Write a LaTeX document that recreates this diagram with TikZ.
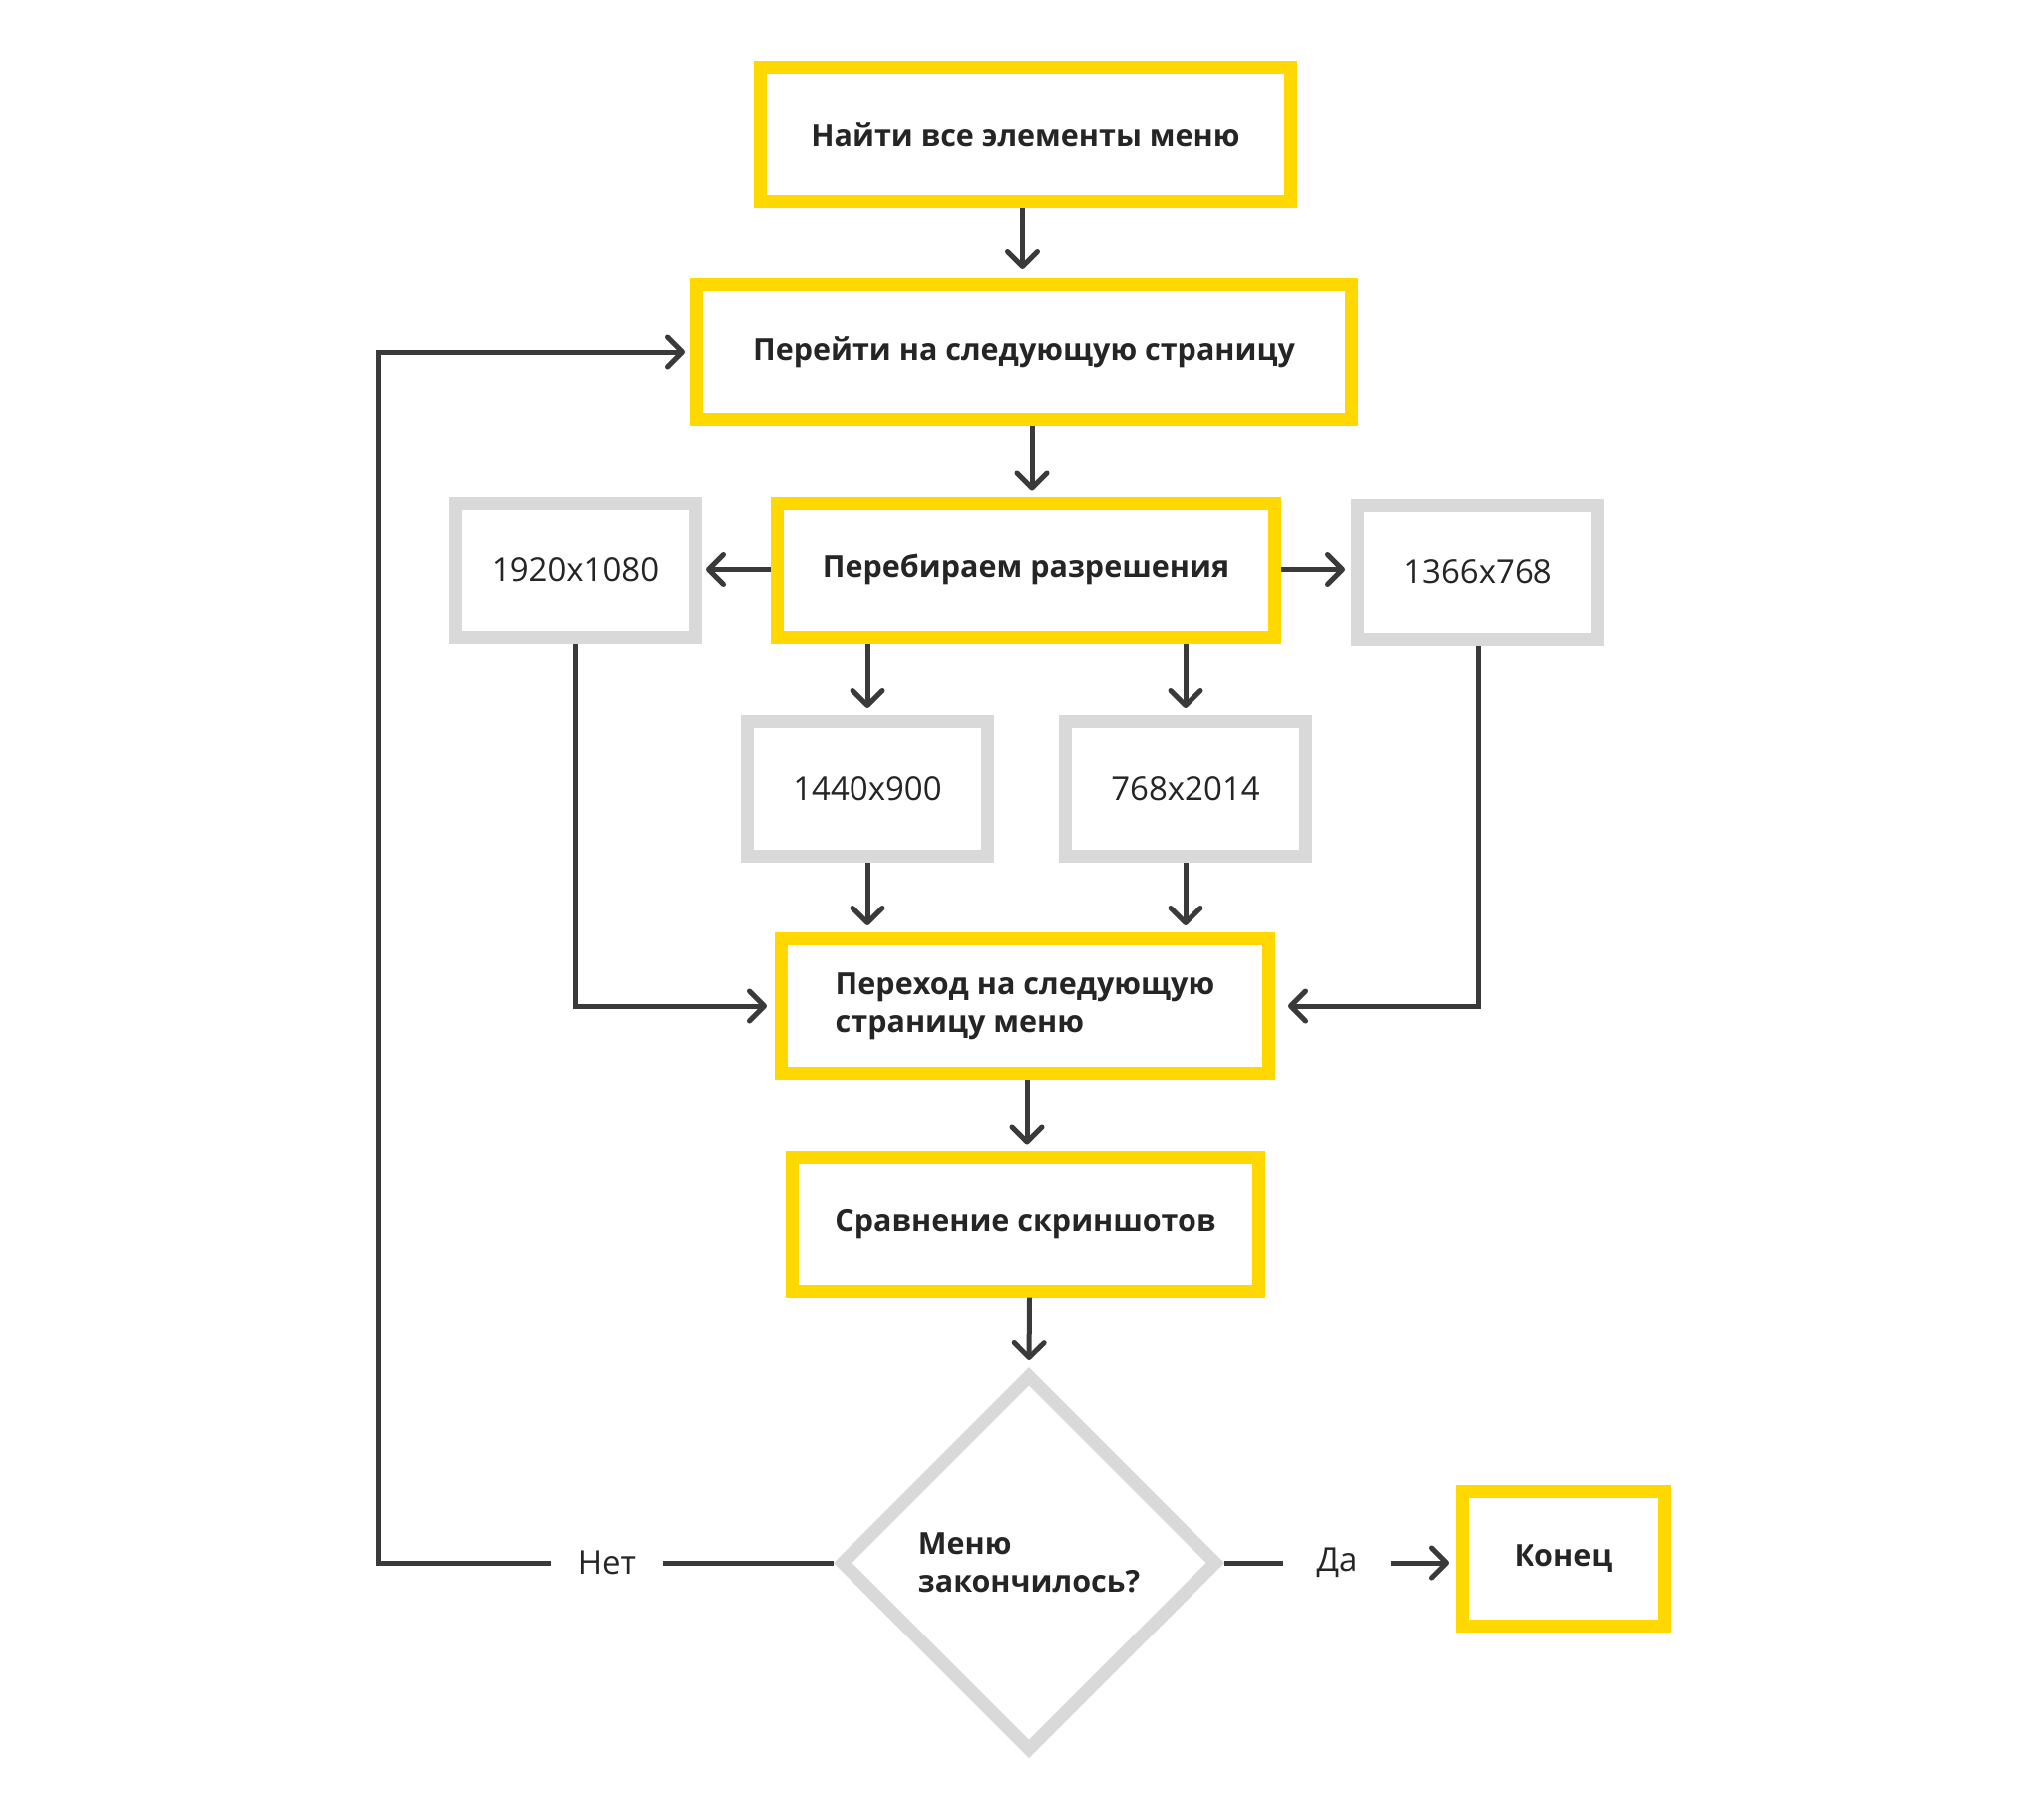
\documentclass[tikz,border=0pt]{standalone}
\usepackage{fontspec}
\setmainfont{Open Sans}
\usetikzlibrary{arrows.meta,shapes.geometric}
\definecolor{yel}{HTML}{FFD800}
\definecolor{gry}{HTML}{D9D9D9}
\definecolor{drk}{HTML}{3A3A3A}
\definecolor{txt}{HTML}{252525}
\begin{document}
\begin{tikzpicture}[x=1pt,y=-1pt,
  ybox/.style={draw=yel, line width=13pt, minimum width=#1, minimum height=135pt, inner sep=0pt,
    font=\fontsize{30.5}{38}\selectfont\bfseries, text=txt, align=left},
  gbox/.style={draw=gry, line width=13pt, minimum width=241pt, minimum height=135pt, inner sep=0pt,
    font=\fontsize{33}{38}\selectfont, text=txt},
  dia/.style={diamond, aspect=1, draw=gry, line width=13pt, minimum width=379pt, minimum height=379pt,
    inner sep=0pt, font=\fontsize{30.5}{38}\selectfont\bfseries, text=txt, align=left},
  lbl/.style={font=\fontsize{33}{38}\selectfont, text=txt, inner ysep=0pt},
  conn/.style={draw=drk, line width=5pt, -{Straight Barb[length=15pt,width=30pt,round]}},
  plain/.style={draw=drk, line width=5pt}]
\fill[white] (0,0) rectangle (2050,1821);
\useasboundingbox (0,0) rectangle (2050,1821);

\node[ybox=532pt] (b1) at (1028.5,135) {Найти все элементы меню};
\node[ybox=657pt] (b2) at (1027,353) {Перейти на следующую страницу};
\node[ybox=499pt] (b3) at (1029,571.5) {Перебираем разрешения};
\node[gbox] (r1920) at (577,571.5) {1920x1080};
\node[gbox] (r1366) at (1482,573.5) {1366x768};
\node[gbox] (r1440) at (870,791) {1440x900};
\node[gbox] (r768) at (1189,791) {768x2014};
\node[ybox=489pt] (b4) at (1028,1009) {Переход на следующую\\страницу меню};
\node[ybox=468pt] (b5) at (1028.5,1227.5) {Сравнение скриншотов};
\node[dia] (d) at (1032,1567) {Меню\\закончилось?};
\node[ybox=203pt] (end) at (1568,1562.5) {Конец};
\node[lbl, inner xsep=27pt] (no) at (609,1567) {Нет};
\node[lbl, inner xsep=33pt] (yes) at (1341,1567) {Да};
\coordinate (corner) at (379,1567);

\draw[conn, shorten >=9pt] ([xshift=-3pt]b1.south) -- ([xshift=-3pt]b1.south |- b2.north);
\draw[conn, shorten >=6pt] ([xshift=8pt]b2.south) -- ([xshift=8pt]b2.south |- b3.north);
\draw[conn, shorten >=4pt] (b3.west) -- (r1920.east);
\draw[conn, shorten >=6pt] (b3.east) -- (b3.east -| r1366.west);
\draw[conn, shorten >=7pt] (b3.south -| r1440.north) -- (r1440.north);
\draw[conn, shorten >=7pt] (b3.south -| r768.north) -- (r768.north);
\draw[conn, shorten >=7pt] (r1440.south) -- (r1440.south |- b4.north);
\draw[conn, shorten >=7pt] (r768.south) -- (r768.south |- b4.north);
\draw[conn, shorten >=8pt] (r1920.south) |- (b4.west);
\draw[conn, shorten >=13pt] (r1366.south) |- (b4.east);
\draw[conn, shorten >=6pt] ([xshift=2pt]b4.south) -- ([xshift=2pt]b4.south |- b5.north);
\draw[conn, shorten >=7pt] ([xshift=4pt]b5.south) -- (d.north);
\draw[plain] (d.west) -- (no.east);
\draw[conn, shorten >=5pt] (no.west) -- (corner) |- (b2.west);
\draw[plain] (d.east) -- (yes.west);
\draw[conn, shorten >=7pt] (yes.east) -- (yes.east -| end.west);
\end{tikzpicture}
\end{document}
